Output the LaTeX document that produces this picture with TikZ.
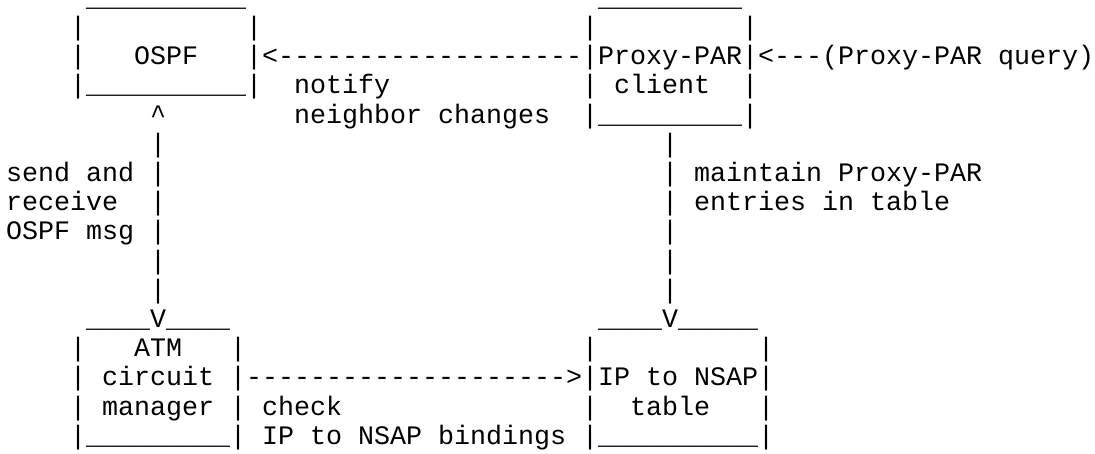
\documentclass[tikz,border=0pt]{standalone}
\usepackage{fontspec}
\setmonofont{Liberation Mono}
\tikzset{
  asc/.style={anchor=base west, inner sep=0pt, outer sep=0pt, text=black,
    font=\ttfamily\fontsize{26.67pt}{29.2pt}\selectfont},
  flat/.style={text height=0pt}
}
\newcommand{\ascat}[5][]{\node[asc,#1] (#2) at (6pt+16pt*#3, -6.3pt-29.2pt*#4) {#5};}
\begin{document}
\begin{tikzpicture}
\fill[white] (0,0) rectangle (1095pt,-453pt);
\useasboundingbox (0,0) rectangle (1095pt,-453pt);
% OSPF box
\ascat[flat]{ospfTop}{5}{0}{\_\_\_\_\_\_\_\_\_\_}
\ascat{ospfL1}{4}{1}{|}
\ascat{ospfR1}{15}{1}{|}
\ascat{ospfL2}{4}{2}{|}
\ascat{ospf}{8}{2}{OSPF}
\ascat{ospfR2}{15}{2}{|}
\ascat{ospfBot}{4}{3}{|\_\_\_\_\_\_\_\_\_\_|}
% Proxy-PAR client box
\ascat[flat]{pxTop}{37}{0}{\_\_\_\_\_\_\_\_\_}
\ascat{pxL1}{36}{1}{|}
\ascat{pxR1}{46}{1}{|}
\ascat{px}{36}{2}{|Proxy-PAR|}
\ascat{pxL3}{36}{3}{|}
\ascat{pxclient}{38}{3}{client}
\ascat{pxR3}{46}{3}{|}
\ascat{pxBot}{36}{4}{|\_\_\_\_\_\_\_\_\_|}
% notify arrow
\ascat{notifyArrow}{16}{2}{<-------------------}
\ascat{notify1}{18}{3}{notify}
\ascat{notify2}{18}{4}{neighbor changes}
% query arrow
\ascat{query}{47}{2}{<---(Proxy-PAR query)}
% left vertical connector
\ascat{upTip}{9}{4}{\textasciicircum}
\foreach \r in {5,...,10} {\ascat{lv\r}{9}{\r}{|}}
\ascat{send1}{0}{6}{send and}
\ascat{send2}{0}{7}{receive}
\ascat{send3}{0}{8}{OSPF msg}
% right vertical connector
\foreach \r in {5,...,10} {\ascat{rv\r}{41}{\r}{|}}
\ascat{maint1}{43}{6}{maintain Proxy-PAR}
\ascat{maint2}{43}{7}{entries in table}
% ATM circuit manager box
\ascat{atmTop}{5}{11}{\_\_\_\_V\_\_\_\_}
\ascat{atmL1}{4}{12}{|}
\ascat{atm1}{8}{12}{ATM}
\ascat{atmR1}{14}{12}{|}
\ascat{atmL2}{4}{13}{|}
\ascat{atm2}{6}{13}{circuit}
\ascat{atmR2}{14}{13}{|}
\ascat{atmL3}{4}{14}{|}
\ascat{atm3}{6}{14}{manager}
\ascat{atmR3}{14}{14}{|}
\ascat{atmBot}{4}{15}{|\_\_\_\_\_\_\_\_\_|}
% check arrow
\ascat{checkArrow}{15}{13}{-------------------->}
\ascat{check1}{16}{14}{check}
\ascat{check2}{16}{15}{IP to NSAP bindings}
% IP to NSAP table box
\ascat{ipTop}{37}{11}{\_\_\_\_V\_\_\_\_\_}
\ascat{ipL1}{36}{12}{|}
\ascat{ipR1}{47}{12}{|}
\ascat{ip}{36}{13}{|IP to NSAP|}
\ascat{ipL3}{36}{14}{|}
\ascat{iptable}{39}{14}{table}
\ascat{ipR3}{47}{14}{|}
\ascat{ipBot}{36}{15}{|\_\_\_\_\_\_\_\_\_\_|}
\end{tikzpicture}
\end{document}
